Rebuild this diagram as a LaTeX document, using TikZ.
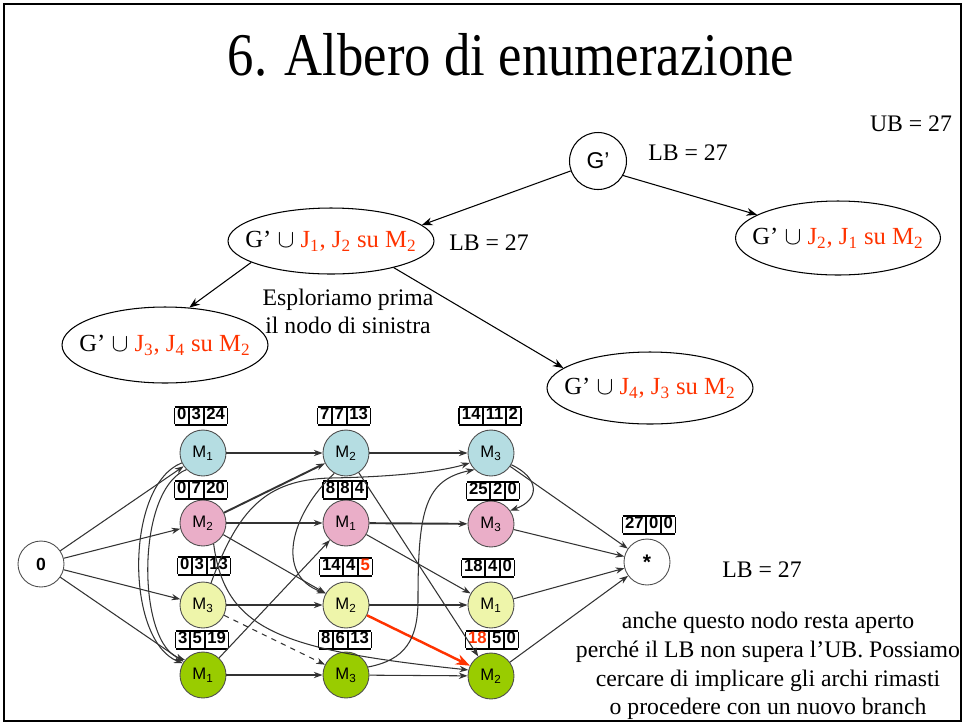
\documentclass[tikz,border=0pt]{standalone}
\usepackage{fontspec}
\setmainfont{Liberation Serif}
\setsansfont{Liberation Sans}
\usetikzlibrary{arrows.meta,shapes.geometric}
\definecolor{jred}{RGB}{255,51,0}
\definecolor{cblue}{RGB}{181,221,226}
\definecolor{cpink}{RGB}{234,174,200}
\definecolor{cyel}{RGB}{238,245,170}
\definecolor{cgreen}{RGB}{153,204,0}
% three boxed numbers (head, processing time, tail)
\newcommand{\lbtriple}[3]{{\setlength{\tabcolsep}{1.5pt}\setlength{\arrayrulewidth}{1pt}\renewcommand{\arraystretch}{0.8}\begin{tabular}{|c|c|c|}\hline #1&#2&#3\\\hline\end{tabular}}}
\begin{document}
\begin{tikzpicture}[x=0.02cm,y=-0.02cm,
  gn/.style={circle,draw=black!70,line width=0.5pt,minimum size=0.92cm,inner sep=0pt,
    font=\sffamily\fontsize{9.5}{10}\selectfont},
  lbl/.style={inner sep=0pt,font=\sffamily\bfseries\fontsize{9.5}{11}\selectfont},
  ar/.style={draw=black!80,line width=0.6pt,-{Stealth[length=5pt,width=3.6pt]}},
  thk/.style={line width=1.1pt},
  tree/.style={ellipse,draw,line width=0.6pt,inner sep=0pt},
  tlab/.style={inner sep=0pt,font=\fontsize{14}{16}\selectfont},
  tarr/.style={draw,line width=0.6pt,-{Stealth[length=6pt,width=4.5pt]}},
  txt/.style={font=\fontsize{13.5}{16.4}\selectfont,inner sep=0pt}
]
\useasboundingbox (0,0) rectangle (965,725);
\draw[line width=1.2pt] (4,4) rectangle (961,721);

% title and bounds
\node[inner sep=0pt,font=\fontsize{30}{36}\selectfont] (title) at (511,55) {\scalebox{1}[1.15]{6. Albero di enumerazione}};
\node[txt] (ub) at (911,124) {UB = 27};

% branching tree
\node[circle,draw,line width=0.6pt,minimum size=1.14cm,inner sep=0pt,font=\sffamily\fontsize{13}{15}\selectfont] (g) at (598,161) {G’};
\node[txt,anchor=west] (lbg) at (648,153) {LB = 27};
\node[tree,minimum width=4.12cm,minimum height=1.32cm] (e1) at (331,241) {};
\node[tlab] (t1) at (e1) {G’ $\cup$ \textcolor{jred}{J\textsubscript{1}, J\textsubscript{2} su M\textsubscript{2}}};
\node[txt,anchor=west] (lbe) at (449,243) {LB = 27};
\node[tree,minimum width=4.1cm,minimum height=1.48cm] (e2) at (838,238) {};
\node[tlab] (t2) at (e2) {G’ $\cup$ \textcolor{jred}{J\textsubscript{2}, J\textsubscript{1} su M\textsubscript{2}}};
\node[tree,minimum width=4.12cm,minimum height=1.52cm] (e3) at (165,345) {};
\node[tlab] (t3) at (e3) {G’ $\cup$ \textcolor{jred}{J\textsubscript{3}, J\textsubscript{4} su M\textsubscript{2}}};
\node[tree,minimum width=4.12cm,minimum height=1.44cm] (e4) at (650,388) {};
\node[tlab] (t4) at (e4) {G’ $\cup$ \textcolor{jred}{J\textsubscript{4}, J\textsubscript{3} su M\textsubscript{2}}};
\node[txt,align=center,font=\fontsize{13.5}{16}\selectfont] (expl) at (348,311) {Esploriamo prima\\il nodo di sinistra};

\draw[tarr] (g.200) -- (e1.10);
\draw[tarr] (g.-30) -- (e2.164);
\draw[tarr] (e1.195) -- (e3.57);
\draw[tarr] (e1.-23) -- (e4.167);

% disjunctive graph nodes
\node[gn,font=\sffamily\bfseries\fontsize{10}{12}\selectfont] (s0) at (41,564) {0};
\node[gn,fill=cblue]  (a1) at (203,453) {M\textsubscript{1}};
\node[gn,fill=cpink]  (b1) at (203,523) {M\textsubscript{2}};
\node[gn,fill=cyel]   (c1) at (203,605) {M\textsubscript{3}};
\node[gn,fill=cgreen] (d1) at (203,675) {M\textsubscript{1}};
\node[gn,fill=cblue]  (a2) at (346,453) {M\textsubscript{2}};
\node[gn,fill=cpink]  (b2) at (346,523) {M\textsubscript{1}};
\node[gn,fill=cyel]   (c2) at (346,605) {M\textsubscript{2}};
\node[gn,fill=cgreen] (d2) at (346,675) {M\textsubscript{3}};
\node[gn,fill=cblue]  (a3) at (491,453) {M\textsubscript{3}};
\node[gn,fill=cpink]  (b3) at (491,524) {M\textsubscript{3}};
\node[gn,fill=cyel]   (c3) at (491,605) {M\textsubscript{1}};
\node[gn,fill=cgreen] (d3) at (491,676) {M\textsubscript{2}};
\node[gn,font=\sffamily\bfseries\fontsize{12}{14}\selectfont] (st) at (647,562) {*};

% head / processing time / tail labels
\node[lbl] (la1) at (201,416) {\lbtriple{0}{3}{24}};
\node[lbl] (lb1) at (201,490) {\lbtriple{0}{7}{20}};
\node[lbl] (lc1) at (204,566) {\lbtriple{0}{3}{13}};
\node[lbl] (ld1) at (202,640) {\lbtriple{3}{5}{19}};
\node[lbl] (la2) at (344,416) {\lbtriple{7}{7}{13}};
\node[lbl] (lb2) at (345,490) {\lbtriple{8}{8}{4}};
\node[lbl] (lc2) at (346,567) {\lbtriple{14}{4}{\textcolor{jred}{5}}};
\node[lbl] (ld2) at (345,640) {\lbtriple{8}{6}{13}};
\node[lbl] (la3) at (490,416) {\lbtriple{14}{11}{2}};
\node[lbl] (lb3) at (493,491) {\lbtriple{25}{2}{0}};
\node[lbl] (lc3) at (488,568) {\lbtriple{18}{4}{0}};
\node[lbl] (ld3) at (492,640) {\lbtriple{\textcolor{jred}{18}}{5}{0}};
\node[lbl] (lst) at (649,525) {\lbtriple{27}{0}{0}};

% source arcs
\draw[ar] (s0) -- (a1);
\draw[ar] (s0) -- (b1);
\draw[ar] (s0) -- (c1);
\draw[ar] (s0) -- (d1);

% job (conjunctive) arcs
\draw[ar] (a1) -- (a2);
\draw[ar] (a2) -- (a3);
\draw[ar,thk] (b1) -- (b2);
\draw[ar,thk] (b2) -- (b3);
\draw[ar] (c1) -- (c2);
\draw[ar] (c2) -- (c3);
\draw[ar] (d1) -- (d2);
\draw[ar] (d2) -- (d3);

% sink arcs
\draw[ar] (a3) -- (st);
\draw[ar] (b3) -- (st);
\draw[ar] (c3) -- (st);
\draw[ar] (d3) -- (st);

% machine M1
\draw[ar] (a1.205) .. controls (125,485) and (125,640) .. (d1.150);
\draw[ar] (a1.225) .. controls (135,490) and (137,645) .. (d1.140);
\draw[ar] (d1) -- (b2);
\draw[ar] (b2) -- (c3);

% machine M2
\draw[ar,thk] (b1) -- (a2);
\draw[ar] (b1) -- (c2);
\draw[ar] (b1.-63) .. controls (225,630) and (280,650) .. (d3.165);
\draw[ar] (a2.240) .. controls (290,515) and (275,575) .. (c2.150);
\draw[ar] (a2) -- (d3);
\draw[draw=jred,line width=1.4pt,-{Stealth[length=8pt,width=6pt]}] (c2) -- (d3);

% machine M3
\draw[ar] (c1.70) .. controls (238,510) and (265,480) .. (330,478)
  .. controls (390,477) and (440,472) .. (a3.205);
\draw[ar] (d2.20) .. controls (405,660) and (418,640) .. (418,600)
  .. controls (418,510) and (425,480) .. (a3.225);
\draw[ar] (a3.-30) .. controls (540,478) and (540,500) .. (b3.35);
\draw[ar,dashed] (c1) -- (d2);

\node[txt] (lbs) at (762,570) {LB = 27};
\node[txt,align=center] (note) at (768,666) {anche questo nodo resta aperto\\perché il LB non supera l’UB. Possiamo\\cercare di implicare gli archi rimasti\\o procedere con un nuovo branch};
\end{tikzpicture}
\end{document}
